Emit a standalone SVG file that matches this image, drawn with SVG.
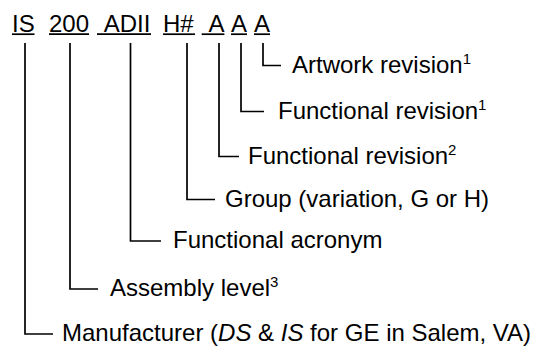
<svg xmlns="http://www.w3.org/2000/svg" width="538" height="347" viewBox="0 0 538 347">
<style>
text{font-family:"Liberation Sans",Arial,sans-serif;font-size:24px;fill:#000}
.sup{font-size:15px}
.it{font-style:italic}
line,path{stroke:#000;stroke-width:1.7;fill:none}
</style>
<rect width="538" height="347" fill="#fff"/>
<g id="code">
<text x="12" y="32">IS</text>
<text x="49" y="32">200</text>
<text x="103.7" y="32">ADII</text>
<text x="163" y="32">H#</text>
<text x="208.4" y="32">A</text>
<text x="231" y="32">A</text>
<text x="254" y="32">A</text>
<line x1="12" y1="34.2" x2="34.5" y2="34.2"/>
<line x1="49" y1="34.2" x2="89" y2="34.2"/>
<line x1="97" y1="34.2" x2="151" y2="34.2"/>
<line x1="163" y1="34.2" x2="195" y2="34.2"/>
<line x1="201.7" y1="34.2" x2="224.4" y2="34.2"/>
<line x1="231" y1="34.2" x2="247" y2="34.2"/>
<line x1="254" y1="34.2" x2="270" y2="34.2"/>
</g>
<g id="connectors">
<path d="M263 43V65.5H281"/>
<path d="M241 43V111.5H264"/>
<path d="M219 43V156.5H239"/>
<path d="M187 43V199.5H215"/>
<path d="M130.5 43V241H161"/>
<path d="M70 43V289H98"/>
<path d="M25 43V334H53"/>
</g>
<g id="artwork"><text x="292" y="73">Artwork revision<tspan class="sup" dy="-9">1</tspan></text></g>
<g id="func1"><text x="278" y="119">Functional revision<tspan class="sup" dy="-9">1</tspan></text></g>
<g id="func2"><text x="248" y="164">Functional revision<tspan class="sup" dy="-9">2</tspan></text></g>
<g id="group"><text x="225" y="207">Group (variation, G or H)</text></g>
<g id="acronym"><text x="173" y="248">Functional acronym</text></g>
<g id="assembly"><text x="110" y="296">Assembly level<tspan class="sup" dy="-9">3</tspan></text></g>
<g id="manufacturer"><text x="62" y="341">Manufacturer (<tspan class="it">DS</tspan> &amp; <tspan class="it">IS</tspan> for GE in Salem, VA)</text></g>
</svg>
